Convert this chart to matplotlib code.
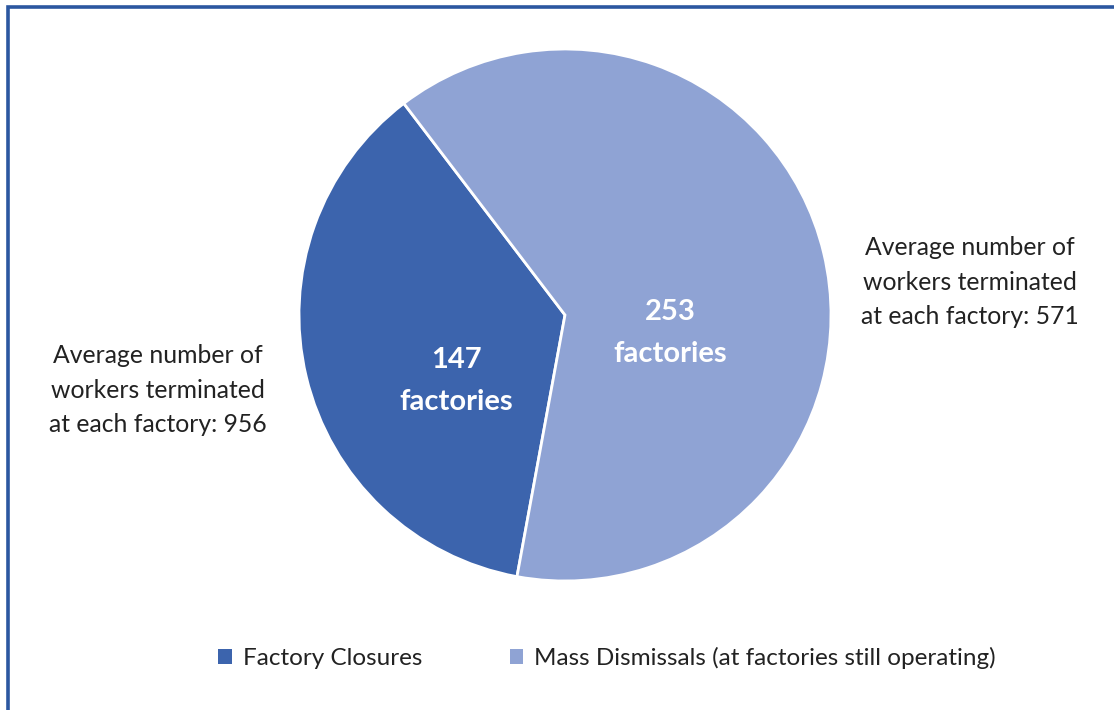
import matplotlib
matplotlib.use("Agg")
import matplotlib.pyplot as plt
from matplotlib.patches import Rectangle

categories = ["Factory Closures", "Mass Dismissals (at factories still operating)"]
factories = [147, 253]
avg_terminated = [956, 571]
colors = ["#3C64AD", "#8FA3D4"]

W, H = 1114, 710
fig = plt.figure(figsize=(W / 100, H / 100), dpi=100)
plt.rcParams['font.family'] = ['Lato', 'DejaVu Sans']

# border
fig.patches.append(Rectangle((8 / W, -0.05), 1.1, 1 - 7 / H + 0.05, transform=fig.transFigure,
                             fill=False, edgecolor="#2B57A0", linewidth=2.6))

cx, cy, r = 565, 315, 266
ax = fig.add_axes([(cx - r) / W, (H - cy - r) / H, 2 * r / W, 2 * r / H])
wedges, _ = ax.pie(factories, colors=colors, startangle=127.3, counterclock=True, radius=1,
                   wedgeprops=dict(edgecolor="white", linewidth=2.0))
ax.set_xlim(-1, 1)
ax.set_ylim(-1, 1)
ax.set_aspect("equal")
ax.axis("off")

def fx(px):
    return px / W

def fy(py):
    return 1 - py / H

# in-slice labels
fig.text(fx(456), fy(381), f"{factories[0]}\nfactories", ha="center", va="center",
         color="white", fontsize=21, fontweight="bold", linespacing=1.8)
fig.text(fx(670), fy(333), f"{factories[1]}\nfactories", ha="center", va="center",
         color="white", fontsize=21, fontweight="bold", linespacing=1.8)

# side annotations
fig.text(fx(158), fy(390), f"Average number of\nworkers terminated\nat each factory: {avg_terminated[0]}",
         ha="center", va="center", color="#222222", fontsize=17.8, linespacing=1.58)
fig.text(fx(970), fy(282), f"Average number of\nworkers terminated\nat each factory: {avg_terminated[1]}",
         ha="center", va="center", color="#222222", fontsize=17.8, linespacing=1.58)

# legend
handles = [Rectangle((0, 0), 1, 1, facecolor=c, edgecolor="none") for c in colors]
fig.legend(handles, categories, loc="center", bbox_to_anchor=(fx(607), fy(658)), ncol=2,
           frameon=False, fontsize=17.5, handlelength=0.55, handleheight=0.55,
           handletextpad=0.45, columnspacing=3.6, labelcolor="#222222")

fig.savefig("out.png", dpi=100, facecolor="white")
